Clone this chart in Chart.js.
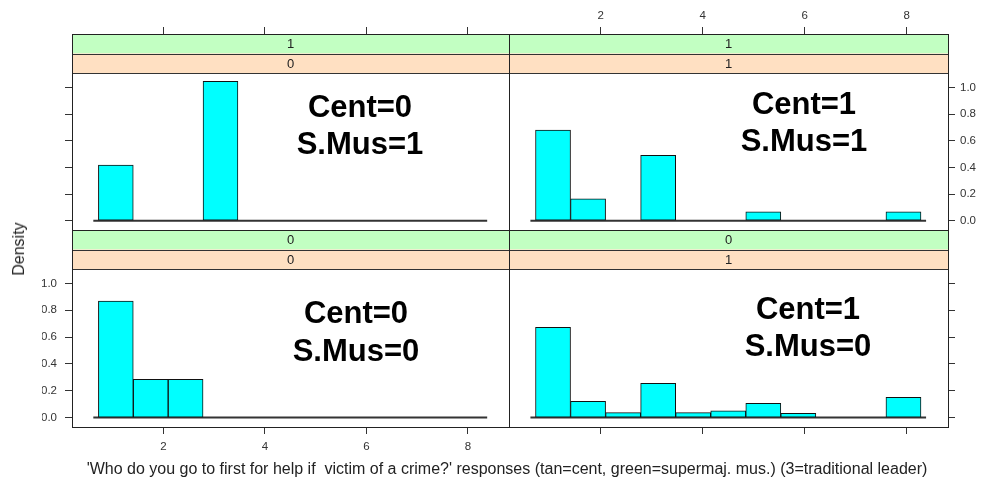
<!DOCTYPE html>
<html>
<head>
<meta charset="utf-8">
<script src="https://cdn.jsdelivr.net/npm/chart.js@4.4.1/dist/chart.umd.min.js"></script>
<style>
  body { margin: 0; background: #fff; }
  #wrap { position: relative; width: 982px; height: 487px; font-family: "Liberation Sans", Arial, sans-serif; }
  #wrap canvas { position: absolute; left: 0; top: 0; }
  .note { position: absolute; font-weight: bold; font-size: 31px; line-height: 1; color: #000; transform: translate(-50%, -50%); white-space: nowrap; }
  .title { position: absolute; color: #222; white-space: pre; line-height: 1; font-size: 16px; }
</style>
</head>
<body>
<div id="wrap">
  <canvas id="tl" width="982" height="487"></canvas>
  <canvas id="tr" width="982" height="487"></canvas>
  <canvas id="bl" width="982" height="487"></canvas>
  <canvas id="br" width="982" height="487"></canvas>

  <div class="note" style="left:360px; top:106px;">Cent=0</div>
  <div class="note" style="left:360px; top:143px;">S.Mus=1</div>
  <div class="note" style="left:804px; top:103px;">Cent=1</div>
  <div class="note" style="left:804px; top:140px;">S.Mus=1</div>
  <div class="note" style="left:356px; top:312px;">Cent=0</div>
  <div class="note" style="left:356px; top:350px;">S.Mus=0</div>
  <div class="note" style="left:808px; top:308px;">Cent=1</div>
  <div class="note" style="left:808px; top:345px;">S.Mus=0</div>

  <div class="title" style="left:19px; top:249px; transform:translate(-50%,-50%) rotate(-90deg);">Density</div>
  <div class="title" style="left:507px; top:461px; transform:translateX(-50%);">'Who do you go to first for help if  victim of a crime?' responses (tan=cent, green=supermaj. mus.) (3=traditional leader)</div>
</div>
<script>
// histogram breaks (11 bins)
const breaks = [0.720, 1.407, 2.095, 2.782, 3.469, 4.156, 4.844, 5.531, 6.218, 6.905, 7.593, 8.280];

// densities per bin
const densCent0Mus1 = [0.418, 0, 0, 1.045, 0, 0, 0, 0, 0, 0, 0];
const densCent1Mus1 = [0.680, 0.164, 0, 0.491, 0, 0, 0.066, 0, 0, 0, 0.066];
const densCent0Mus0 = [0.868, 0.286, 0.286, 0, 0, 0, 0, 0, 0, 0, 0];
const densCent1Mus0 = [0.674, 0.122, 0.037, 0.256, 0.037, 0.050, 0.107, 0.032, 0, 0, 0.152];

const xTicks = [2, 4, 6, 8];
const yTicks = [0, 0.2, 0.4, 0.6, 0.8, 1.0];

const FONT = '"Liberation Sans", Arial, sans-serif';
const STRIP_H = 19.5;
const Y_MIN = -0.07, Y_TOP = 1.108;   // value range of the plotting region below the strips
const AXIS = 30;                      // fixed axis box size

const mids = breaks.slice(0, -1).map((b, i) => (b + breaks[i + 1]) / 2);

const stripPlugin = {
    id: 'strips',
    afterDraw(chart, args, opts) {
        const {ctx, chartArea: a} = chart;
        const y1 = a.top + STRIP_H, y2 = a.top + 2 * STRIP_H;
        ctx.save();
        ctx.fillStyle = '#c2ffc2';
        ctx.fillRect(a.left, a.top, a.right - a.left, STRIP_H);
        ctx.fillStyle = '#ffe0c2';
        ctx.fillRect(a.left, y1, a.right - a.left, STRIP_H);
        ctx.strokeStyle = '#333';
        ctx.lineWidth = 1;
        ctx.beginPath();
        [y1, y2].forEach(y => {
            ctx.moveTo(a.left, Math.round(y) + 0.5);
            ctx.lineTo(a.right, Math.round(y) + 0.5);
        });
        ctx.stroke();
        ctx.strokeStyle = '#222';
        ctx.strokeRect(a.left + 0.5, a.top + 0.5, a.right - a.left, a.bottom - a.top);
        ctx.fillStyle = '#222';
        ctx.font = '13px ' + FONT;
        ctx.textAlign = 'center';
        ctx.textBaseline = 'middle';
        const cx = (a.left + a.right) / 2;
        ctx.fillText(opts.green, cx, a.top + STRIP_H / 2 + 1);
        ctx.fillText(opts.tan, cx, y1 + STRIP_H / 2 + 1);
        ctx.restore();
    }
};

function makePanel(id, dens, cfg) {
    const area = cfg.area;
    const plotH = (area.bottom - area.top) - 2 * STRIP_H;
    const yMax = Y_TOP + 2 * STRIP_H * (Y_TOP - Y_MIN) / plotH;
    const yLeft = cfg.yPos === 'left';
    const xTop = cfg.xPos === 'top';
    new Chart(document.getElementById(id), {
        type: 'bar',
        data: {
            datasets: [{
                type: 'line',
                data: [{x: breaks[0] - 0.1, y: 0}, {x: breaks[breaks.length - 1] + 0.1, y: 0}],
                borderColor: '#333',
                borderWidth: 2,
                pointRadius: 0,
                order: 2
            }, {
                data: mids.map((m, i) => ({x: m, y: dens[i]})),
                backgroundColor: '#00ffff',
                borderColor: '#111',
                borderWidth: 1,
                borderSkipped: false,
                barPercentage: 1,
                categoryPercentage: 1,
                order: 1
            }]
        },
        options: {
            responsive: false,
            animation: false,
            layout: {
                padding: {
                    left: yLeft ? area.left - AXIS : area.left,
                    right: yLeft ? 982 - area.right : 982 - area.right - AXIS,
                    top: xTop ? area.top - AXIS : area.top,
                    bottom: xTop ? 487 - area.bottom : 487 - area.bottom - AXIS
                }
            },
            plugins: {
                legend: {display: false},
                tooltip: {enabled: false},
                strips: {green: cfg.green, tan: cfg.tan}
            },
            scales: {
                x: {
                    type: 'linear',
                    position: cfg.xPos,
                    offset: false,
                    min: 0.2,
                    max: 8.81,
                    afterBuildTicks: s => { s.ticks = xTicks.map(v => ({value: v})); },
                    afterFit: s => { s.height = AXIS; },
                    border: {display: false},
                    grid: {offset: false, drawOnChartArea: false, drawTicks: true, tickLength: 7, color: '#333'},
                    ticks: {
                        display: cfg.xLabels,
                        padding: xTop ? 4 : 6,
                        color: '#333',
                        font: {family: FONT, size: 11.5},
                        maxRotation: 0
                    }
                },
                y: {
                    position: cfg.yPos,
                    min: Y_MIN,
                    max: yMax,
                    afterBuildTicks: s => { s.ticks = yTicks.map(v => ({value: v})); },
                    afterFit: s => { s.width = AXIS; },
                    border: {display: false},
                    grid: {drawOnChartArea: false, drawTicks: true, tickLength: 7, color: '#333'},
                    ticks: {
                        display: cfg.yLabels,
                        padding: yLeft ? 8 : 5,
                        color: '#333',
                        font: {family: FONT, size: 11.5},
                        callback: v => v.toFixed(1)
                    }
                }
            }
        },
        plugins: [stripPlugin]
    });
}

makePanel('tl', densCent0Mus1, {
    area: {left: 72, top: 34, right: 509, bottom: 230},
    xPos: 'top', yPos: 'left', xLabels: false, yLabels: false, green: '1', tan: '0'
});
makePanel('tr', densCent1Mus1, {
    area: {left: 509, top: 34, right: 948, bottom: 230},
    xPos: 'top', yPos: 'right', xLabels: true, yLabels: true, green: '1', tan: '1'
});
makePanel('bl', densCent0Mus0, {
    area: {left: 72, top: 230, right: 509, bottom: 427},
    xPos: 'bottom', yPos: 'left', xLabels: true, yLabels: true, green: '0', tan: '0'
});
makePanel('br', densCent1Mus0, {
    area: {left: 509, top: 230, right: 948, bottom: 427},
    xPos: 'bottom', yPos: 'right', xLabels: false, yLabels: false, green: '0', tan: '1'
});
</script>
</body>
</html>
